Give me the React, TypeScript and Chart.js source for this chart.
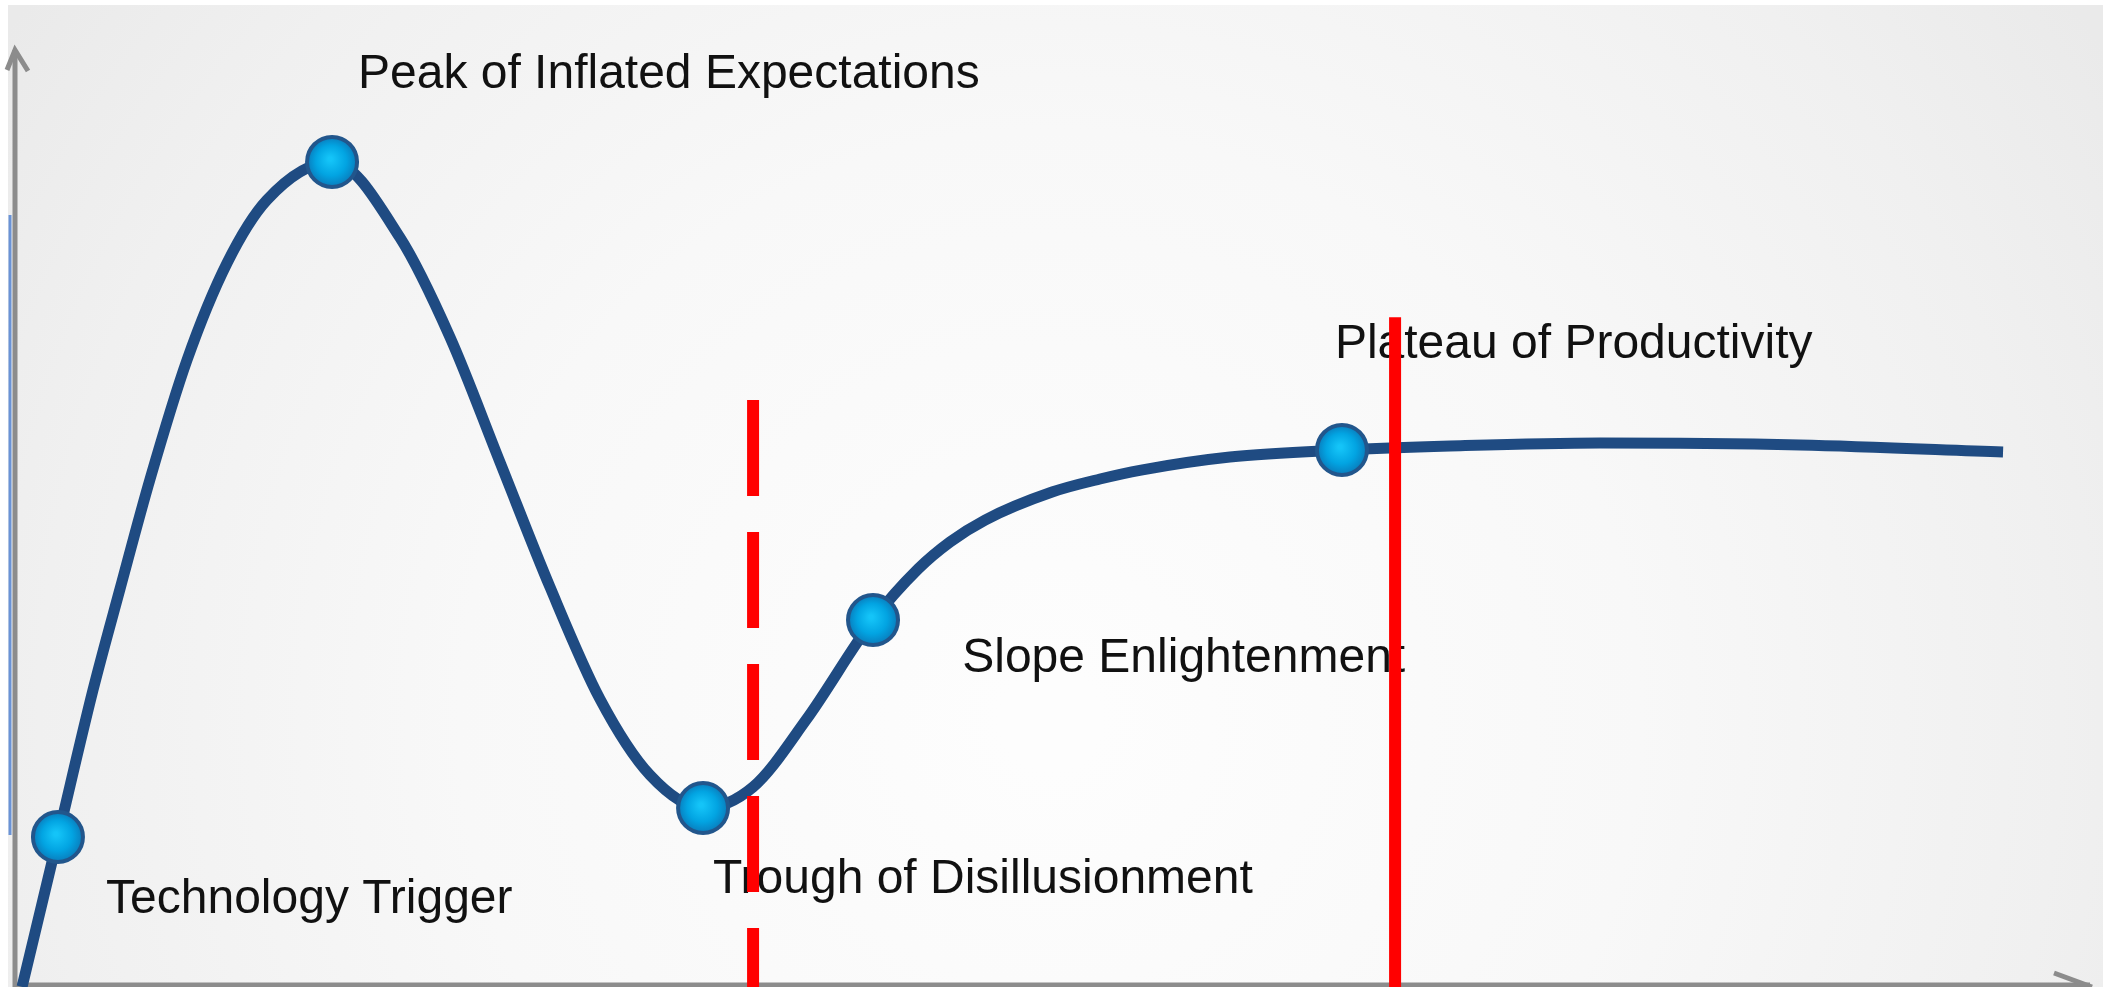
import React, { useEffect, useRef } from "react";
import { Chart, registerables } from "chart.js";

Chart.register(...registerables);

// Hype-cycle curve (x = time, y = expectations), both on a 0..100 scale
const curveX = [0.34, 2.07, 3.76, 5.06, 6.51, 8.29, 10.22, 12.14, 15.28, 18.55, 20.96, 23.37, 25.78, 28.19, 30.6, 33.16, 35.57, 38.12, 41.35, 43.52, 45.06, 46.75, 49.98, 52.29, 54.27, 58.55, 63.95, 69.16, 76.39, 86.02, 95.81];
const curveY = [-0.2, 15.76, 31.42, 42.17, 53.89, 66.56, 76.89, 83.6, 87.65, 79.6, 69.01, 55.7, 42.39, 30.46, 22.36, 18.85, 21.09, 28.22, 38.87, 44.3, 47.18, 49.52, 52.5, 53.89, 54.84, 56.23, 56.98, 57.4, 57.72, 57.51, 56.76];

// Phase markers
const phaseNames = ["Technology Trigger", "Peak of Inflated Expectations", "Trough of Disillusionment", "Slope Enlightenment", "Plateau of Productivity"];
const phaseX = [2.07, 15.28, 33.16, 41.35, 63.95];
const phaseY = [15.76, 87.65, 18.85, 38.87, 56.98];

// Label anchors (left, baseline) in data units
const labelX = [4.39, 16.53, 33.64, 45.65, 63.61];
const labelY = [7.67, 95.53, 9.8, 33.33, 66.77];

// Red vertical markers
const dashedLineX = 35.57;
const dashedLineTop = 62.3;
const solidLineX = 66.51;
const solidLineTop = 71.1;

const FONT = '48px "Liberation Sans", Arial, sans-serif';

const decorPlugin = {
  id: "decor",
  beforeDraw(chart: any) {
    const { ctx, width, height } = chart;
    ctx.save();
    ctx.fillStyle = "#ffffff";
    ctx.fillRect(0, 0, width, height);
    const g = ctx.createRadialGradient(1050, 720, 50, 1050, 720, 1250);
    g.addColorStop(0, "#fdfdfd");
    g.addColorStop(0.45, "#f8f8f8");
    g.addColorStop(0.8, "#f0f0f0");
    g.addColorStop(1, "#eaeaea");
    ctx.fillStyle = g;
    ctx.fillRect(8, 5, width - 8, height - 5);
    ctx.restore();
  },
  beforeDatasetsDraw(chart: any) {
    const { ctx, chartArea } = chart;
    const left = chartArea.left;
    const bottom = chartArea.bottom;
    ctx.save();
    // thin blue line left of the axis
    ctx.strokeStyle = "#6a93d6";
    ctx.lineWidth = 3;
    ctx.beginPath();
    ctx.moveTo(left - 5, 215);
    ctx.lineTo(left - 5, 835);
    ctx.stroke();
    ctx.strokeStyle = "#8c8c8c";
    ctx.lineWidth = 5;
    ctx.lineCap = "butt";
    // y axis
    ctx.beginPath();
    ctx.moveTo(left, chart.height);
    ctx.lineTo(left, 50);
    ctx.stroke();
    ctx.beginPath();
    ctx.moveTo(left - 8, 70);
    ctx.lineTo(left, 50);
    ctx.lineTo(left + 13, 71);
    ctx.stroke();
    // x axis
    ctx.beginPath();
    ctx.moveTo(left - 2, bottom);
    ctx.lineTo(chartArea.right, bottom);
    ctx.stroke();
    ctx.beginPath();
    ctx.moveTo(chartArea.right - 36, bottom - 12);
    ctx.lineTo(chartArea.right + 2, bottom + 2);
    ctx.stroke();
    ctx.restore();
  },
  afterDatasetDraw(chart: any, args: any) {
    if (args.index !== 1) return;
    const { ctx } = chart;
    const xs = chart.scales.x;
    const ys = chart.scales.y;
    ctx.save();
    ctx.font = FONT;
    ctx.fillStyle = "#111111";
    ctx.textAlign = "left";
    ctx.textBaseline = "alphabetic";
    phaseNames.forEach((name, i) => {
      ctx.fillText(name, xs.getPixelForValue(labelX[i]), ys.getPixelForValue(labelY[i]));
    });
    ctx.restore();
  },
};

export default function App() {
  const ref = useRef<HTMLCanvasElement | null>(null);
  useEffect(() => {
    if (!ref.current) return;
    const markerFill = (c: any) => {
      if (c.type !== "data" || !c.raw) return "#00a8e8";
      const chart = c.chart;
      const xs = chart.scales && chart.scales.x;
      const ys = chart.scales && chart.scales.y;
      if (!xs || !ys) return "#00a8e8";
      const px = xs.getPixelForValue(c.raw.x);
      const py = ys.getPixelForValue(c.raw.y);
      if (!isFinite(px) || !isFinite(py)) return "#00a8e8";
      const g = chart.ctx.createRadialGradient(px - 2, py - 3, 2, px, py, 26);
      g.addColorStop(0, "#14c4f8");
      g.addColorStop(0.55, "#02a4e2");
      g.addColorStop(1, "#0a78b8");
      return g;
    };
    const chart = new Chart(ref.current, {
      type: "line",
      data: {
        datasets: [
          {
            label: "Dashed",
            data: [
              { x: dashedLineX, y: dashedLineTop },
              { x: dashedLineX, y: -2 },
            ],
            borderColor: "#ff0000",
            borderWidth: 12,
            borderDash: [96, 36],
            borderCapStyle: "butt",
            pointRadius: 0,
            clip: false,
            order: 0,
          } as any,
          {
            label: "Phases",
            data: phaseX.map((x, i) => ({ x, y: phaseY[i] })),
            showLine: false,
            pointRadius: 25,
            pointBorderWidth: 4,
            pointBackgroundColor: markerFill,
            pointBorderColor: "#22568c",
            clip: false,
            order: 2,
          } as any,
          {
            label: "Hype",
            data: curveX.map((x, i) => ({ x, y: curveY[i] })),
            borderColor: "#1f4b82",
            borderWidth: 11,
            borderCapStyle: "butt",
            borderJoinStyle: "round",
            pointRadius: 0,
            cubicInterpolationMode: "monotone",
            clip: false,
            order: 3,
          } as any,
          {
            label: "Solid",
            data: [
              { x: solidLineX, y: solidLineTop },
              { x: solidLineX, y: -2 },
            ],
            borderColor: "#ff0000",
            borderWidth: 12,
            borderCapStyle: "butt",
            pointRadius: 0,
            clip: false,
            order: 0,
          } as any,
        ],
      },
      options: {
        animation: false,
        responsive: false,
        maintainAspectRatio: false,
        events: [],
        layout: { autoPadding: false, padding: { left: 15, right: 13, top: 46, bottom: 2 } },
        scales: {
          x: { type: "linear", min: 0, max: 100, display: false },
          y: { type: "linear", min: 0, max: 100, display: false },
        },
        plugins: {
          legend: { display: false },
          tooltip: { enabled: false },
          title: { display: false },
        },
      },
      plugins: [decorPlugin],
    });
    return () => chart.destroy();
  }, []);
  return (
    <div style={{ position: "fixed", left: 0, top: 0, width: 2103, height: 987 }}>
      <canvas ref={ref} width={2103} height={987} style={{ display: "block", width: 2103, height: 987 }} />
    </div>
  );
}
